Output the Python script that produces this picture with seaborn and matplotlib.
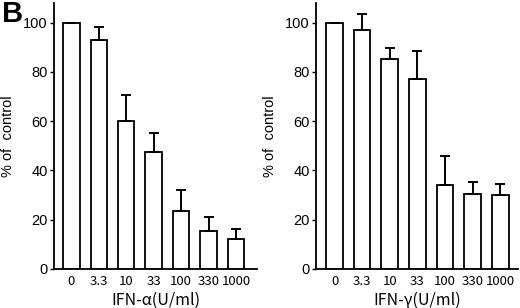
import matplotlib
matplotlib.use("Agg")
import matplotlib.pyplot as plt
import seaborn as sns
import numpy as np
import pandas as pd

doses = ["0", "3.3", "10", "33", "100", "330", "1000"]
alpha_vals = [100, 92.9, 60.1, 47.5, 23.4, 15.4, 12.2]
alpha_err = [0, 5.5, 10.4, 7.9, 8.7, 5.6, 4.1]
gamma_vals = [100, 97.0, 85.1, 77.1, 34.0, 30.6, 30.0]
gamma_err = [0, 6.5, 4.8, 11.3, 11.8, 4.7, 4.7]
yticks = [0, 20, 40, 60, 80, 100]
xlabels = ["IFN-α(U/ml)", "IFN-γ(U/ml)"]

sns.set_theme(style="ticks")
plt.rcParams["font.family"] = ["Liberation Sans", "DejaVu Sans"]
plt.rcParams["text.color"] = "black"
plt.rcParams["axes.labelcolor"] = "black"
plt.rcParams["xtick.color"] = "black"
plt.rcParams["ytick.color"] = "black"

fig = plt.figure(figsize=(5.2, 3.08), dpi=100)
ax1 = fig.add_axes([54/520, 1-269/308, 203/520, 266/308])
ax2 = fig.add_axes([316/520, 1-269/308, 202/520, 266/308])

panels = [(ax1, alpha_vals, alpha_err, xlabels[0], (-0.63, 0.76)),
          (ax2, gamma_vals, gamma_err, xlabels[1], (-0.67, 0.64))]

for ax, vals, err, xl, (lpad, rpad) in panels:
    df = pd.DataFrame({"dose": doses, "val": vals})
    sns.barplot(data=df, x="dose", y="val", ax=ax, color="white",
                edgecolor="black", linewidth=1.3, width=0.6,
                errorbar=None, saturation=1)
    ax.errorbar(np.arange(len(doses)), vals,
                yerr=[np.zeros(len(err)), err], fmt="none",
                ecolor="black", elinewidth=1.4, capsize=3.6, capthick=1.4)
    ax.set_ylim(0, 108)
    ax.set_xlim(lpad, len(doses) - 1 + rpad)
    ax.set_yticks(yticks)
    ax.set_yticklabels([str(t) for t in yticks], fontsize=10.5)
    ax.tick_params(axis="y", length=3, width=1.0, pad=1.5, direction="out")
    ax.tick_params(axis="x", length=0, pad=4)
    for lab in ax.get_xticklabels():
        lab.set_fontfamily(["Noto Sans CJK JP", "DejaVu Sans"])
        lab.set_fontsize(9.5)
    ax.set_xlabel(xl, fontsize=11.5, family=["Noto Sans CJK JP", "DejaVu Sans"], labelpad=3)
    ax.set_ylabel("% of  control", fontsize=10.5, labelpad=6)
    sns.despine(ax=ax)
    for s in ["left", "bottom"]:
        ax.spines[s].set_linewidth(1.3)
        ax.spines[s].set_color("black")

fig.text(0.003, 1 - 22/308, "B", fontsize=21, fontweight="bold",
         ha="left", va="baseline")

fig.savefig("out.png", dpi=100)
